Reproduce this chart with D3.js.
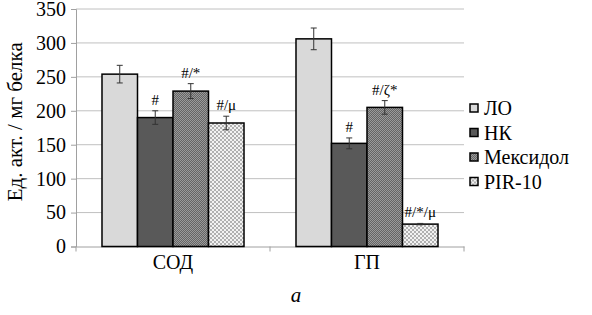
<!DOCTYPE html>
<html>
<head>
<meta charset="utf-8">
<script src="https://cdn.jsdelivr.net/npm/d3@7"></script>
<style>
  @font-face { font-family: 'ChartSerif'; src: local('Liberation Serif'), local('LiberationSerif'), local('Tinos'), local('FreeSerif'); font-style: normal; }
  @font-face { font-family: 'ChartSerif'; src: local('Liberation Serif Italic'), local('LiberationSerif-Italic'), local('Tinos Italic'); font-style: italic; }
  body { margin: 0; background: #fff; }
</style>
</head>
<body>
<div id="chart"></div>
<script>
// Data
const categories = ['СОД', 'ГП'];
const seriesNames = ['ЛО', 'НК', 'Мексидол', 'PIR-10'];
const values = {
    'СОД': [254, 190, 229, 182],
    'ГП': [306, 152, 205, 33]
};
const errors = {
    'СОД': [13, 10, 11, 10],
    'ГП': [16, 8, 10, 1]
};
const marks = {
    'СОД': ['', '#', '#/*', '#/μ'],
    'ГП': ['', '#', '#/ζ*', '#/*/μ']
};
const yTicks = [0, 50, 100, 150, 200, 250, 300, 350];

const W = 592, H = 315;
const margin = { top: 9, right: 128, bottom: 68.5, left: 76 };
const width = W - margin.left - margin.right;
const height = H - margin.top - margin.bottom;
const serif = "'Liberation Serif', 'ChartSerif', 'Tinos', 'Times New Roman', 'FreeSerif'";

const svg = d3.select('#chart').append('svg')
    .attr('width', W).attr('height', H);

// patterns
const defs = svg.append('defs');
const pMex = defs.append('pattern').attr('id', 'pMex')
    .attr('patternUnits', 'userSpaceOnUse').attr('width', 2).attr('height', 2);
pMex.append('rect').attr('width', 2).attr('height', 2).attr('fill', '#9a9a9a');
pMex.append('rect').attr('width', 1).attr('height', 1).attr('fill', '#646464');
pMex.append('rect').attr('x', 1).attr('y', 1).attr('width', 1).attr('height', 1).attr('fill', '#646464');

const pPir = defs.append('pattern').attr('id', 'pPir')
    .attr('patternUnits', 'userSpaceOnUse').attr('width', 4).attr('height', 4);
pPir.append('rect').attr('width', 4).attr('height', 4).attr('fill', '#f2f2f2');
pPir.append('rect').attr('width', 2).attr('height', 2).attr('fill', '#b0b0b0');
pPir.append('rect').attr('x', 2).attr('y', 2).attr('width', 2).attr('height', 2).attr('fill', '#b0b0b0');

const fills = ['#d9d9d9', '#595959', 'url(#pMex)', 'url(#pPir)'];

const g = svg.append('g').attr('transform', `translate(${margin.left},${margin.top})`);

// Scales
const x0 = d3.scaleBand().domain(categories).range([0, width]);
const groupW = x0.bandwidth() * 0.732;
const x1 = d3.scaleBand().domain(seriesNames).range([0, groupW]);
const y = d3.scaleLinear().domain([0, 350]).range([height, 0]);

// gridlines
g.selectAll('.grid').data(yTicks.slice(1)).enter().append('line')
    .attr('x1', 0).attr('x2', width)
    .attr('y1', d => y(d)).attr('y2', d => y(d))
    .attr('stroke', '#c0c0c0').attr('stroke-width', 1);

// y axis
const yAxis = g.append('g')
    .call(d3.axisLeft(y).tickValues(yTicks).tickSize(5).tickPadding(5));
yAxis.attr('font-family', null);
yAxis.select('.domain').attr('stroke', '#a0a0a0');
yAxis.selectAll('.tick line').attr('stroke', '#a0a0a0');
yAxis.selectAll('.tick text').attr('font-size', 20).attr('fill', '#000');

// x axis
const xAxis = g.append('g').attr('transform', `translate(0,${height})`)
    .call(d3.axisBottom(x0).tickSize(0).tickPadding(8));
xAxis.attr('font-family', null);
xAxis.select('.domain').attr('stroke', '#a0a0a0');
xAxis.selectAll('.tick text').attr('font-size', 20).attr('fill', '#000');
g.selectAll('.xsep').data([0, width / 2, width]).enter().append('line')
    .attr('x1', d => d).attr('x2', d => d)
    .attr('y1', height).attr('y2', height + 5)
    .attr('stroke', '#a0a0a0');

// bars
const groups = g.selectAll('.grp').data(categories).enter().append('g')
    .attr('transform', d => `translate(${x0(d) + (x0.bandwidth() - groupW) / 2},0)`);

groups.each(function (cat) {
    const gg = d3.select(this);
    const rows = seriesNames.map((s, i) => ({
        s, i, v: values[cat][i], e: errors[cat][i], m: marks[cat][i]
    }));
    gg.selectAll('rect').data(rows).enter().append('rect')
        .attr('x', d => x1(d.s))
        .attr('y', d => y(d.v))
        .attr('width', x1.bandwidth())
        .attr('height', d => height - y(d.v))
        .attr('fill', d => fills[d.i])
        .attr('stroke', '#000').attr('stroke-width', 1.5);

    const eb = gg.selectAll('.eb').data(rows).enter().append('g')
        .attr('stroke', '#333').attr('stroke-width', 1);
    eb.append('line')
        .attr('x1', d => x1(d.s) + x1.bandwidth() / 2).attr('x2', d => x1(d.s) + x1.bandwidth() / 2)
        .attr('y1', d => y(d.v + d.e)).attr('y2', d => y(d.v - d.e));
    eb.append('line')
        .attr('x1', d => x1(d.s) + x1.bandwidth() / 2 - 3).attr('x2', d => x1(d.s) + x1.bandwidth() / 2 + 3)
        .attr('y1', d => y(d.v + d.e)).attr('y2', d => y(d.v + d.e));
    eb.append('line')
        .attr('x1', d => x1(d.s) + x1.bandwidth() / 2 - 3).attr('x2', d => x1(d.s) + x1.bandwidth() / 2 + 3)
        .attr('y1', d => y(d.v - d.e)).attr('y2', d => y(d.v - d.e));

    gg.selectAll('.mk').data(rows.filter(d => d.m)).enter().append('text')
        .attr('x', d => x1(d.s) + x1.bandwidth() / 2)
        .attr('y', d => y(d.v + d.e) - 6)
        .attr('text-anchor', 'middle')
        .attr('font-size', 15)
        .text(d => d.m);
});

// y label
svg.append('text')
    .attr('transform', `translate(22,${margin.top + height / 2 - 6}) rotate(-90)`)
    .attr('text-anchor', 'middle')
    .attr('font-size', 21)
    .text('Ед. акт. / мг белка');

// legend
const legend = svg.append('g').attr('transform', 'translate(470,108)');
const li = legend.selectAll('g').data(seriesNames).enter().append('g')
    .attr('transform', (d, i) => `translate(0,${i * 24.5})`);
li.append('rect').attr('x', 0).attr('y', -4).attr('width', 8).attr('height', 8)
    .attr('fill', (d, i) => fills[i]).attr('stroke', '#000').attr('stroke-width', 1.5);
li.append('text').attr('x', 14).attr('y', 7)
    .attr('font-size', 20).text(d => d);

// panel letter
svg.append('text')
    .attr('x', 296).attr('y', 302)
    .attr('text-anchor', 'middle')
    .attr('font-size', 21).attr('font-style', 'italic')
    .text('a');

// serif font on every text
svg.selectAll('text').style('font-family', serif);
</script>
</body>
</html>
